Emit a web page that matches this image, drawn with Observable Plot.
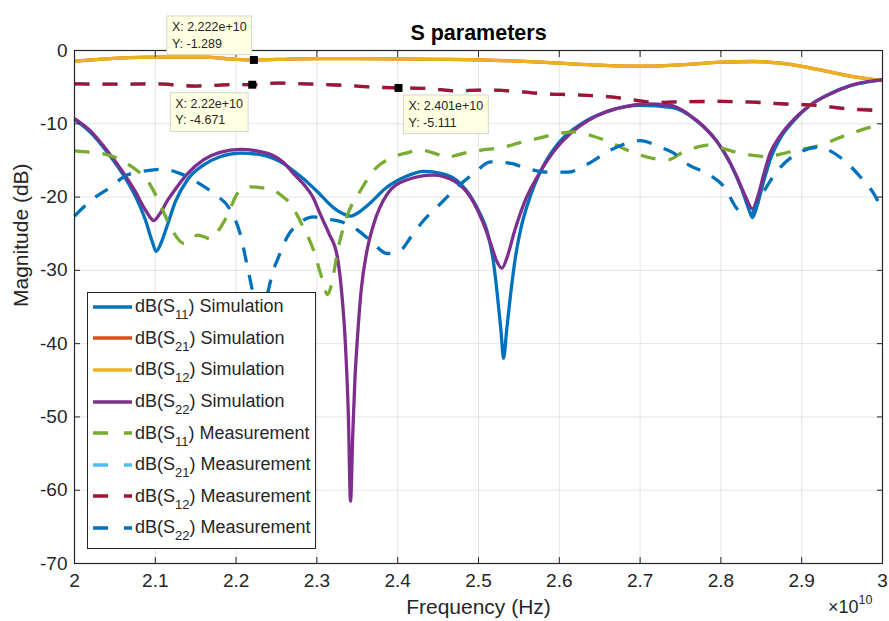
<!DOCTYPE html>
<html>
<head>
<meta charset="utf-8">
<script src="https://cdn.jsdelivr.net/npm/d3@7"></script>
<script src="https://cdn.jsdelivr.net/npm/@observablehq/plot@0.6"></script>
<style>
  body { margin: 0; background: #fff; }
  #wrap { position: relative; width: 889px; height: 621px; font-family: "Liberation Sans", Arial, Helvetica, sans-serif; color: #262626; }
  #legend { position: absolute; left: 87px; top: 292px; width: 229px; height: 257px; box-sizing: border-box; border: 1px solid #262626; background: #fff; padding-top: 0px; }
  .row { height: 31.6px; margin-top: 0; display: flex; align-items: center; font-size: 18px; color: #262626; white-space: nowrap; position: relative; top: -2px; }
  .row svg { margin-left: 5px; margin-right: 3px; flex: none; }
  .sub { font-size: 13px; position: relative; top: 7px; }
  #mult { position: absolute; left: 828px; top: 597px; font-size: 18px; line-height: 20px; color: #262626; }
  #mult sup { font-size: 12.5px; line-height: 0; position: relative; top: -2px; }
</style>
</head>
<body>
<div id="wrap"></div>
<script>
// ---- axis ticks ----
const xTicks = [2, 2.1, 2.2, 2.3, 2.4, 2.5, 2.6, 2.7, 2.8, 2.9, 3];
const xTickLabels = ["2", "2.1", "2.2", "2.3", "2.4", "2.5", "2.6", "2.7", "2.8", "2.9", "3"];
const yTicks = [-70, -60, -50, -40, -30, -20, -10, 0];
const yTickLabels = ["-70", "-60", "-50", "-40", "-30", "-20", "-10", "0"];

// ---- series: [frequency (x1e10 Hz), magnitude (dB)] ----
const s11Sim = [[2.000,-9.4],[2.020,-11.2],[2.040,-13.8],[2.060,-16.9],[2.075,-19.8],[2.088,-23.2],[2.096,-26.0],[2.101,-27.4],[2.107,-26.3],[2.115,-23.8],[2.125,-20.6],[2.140,-17.6],[2.160,-15.6],[2.180,-14.5],[2.205,-14.0],[2.230,-14.2],[2.255,-15.2],[2.280,-17.2],[2.300,-19.2],[2.320,-21.4],[2.335,-22.4],[2.342,-22.6],[2.350,-22.2],[2.365,-20.9],[2.385,-18.8],[2.410,-17.2],[2.432,-16.5],[2.455,-16.8],[2.475,-17.9],[2.492,-20.2],[2.503,-22.5],[2.511,-24.8],[2.518,-28.5],[2.523,-33.0],[2.528,-38.5],[2.531,-42.0],[2.535,-38.0],[2.540,-33.0],[2.546,-28.0],[2.552,-24.5],[2.565,-19.6],[2.580,-15.8],[2.600,-12.5],[2.630,-9.8],[2.660,-8.3],[2.700,-7.5],[2.740,-7.8],[2.770,-9.6],[2.795,-12.4],[2.812,-15.5],[2.826,-19.0],[2.835,-21.8],[2.839,-22.8],[2.844,-21.5],[2.852,-18.2],[2.862,-14.6],[2.875,-11.7],[2.890,-9.6],[2.910,-7.5],[2.935,-5.9],[2.960,-4.8],[2.980,-4.3],[3.000,-4.0]];
const s21Sim = [[2.00,-1.45],[2.03,-1.2],[2.06,-1.0],[2.10,-0.9],[2.16,-0.9],[2.20,-1.2],[2.222,-1.27],[2.26,-1.2],[2.30,-1.1],[2.35,-1.1],[2.40,-1.15],[2.45,-1.2],[2.50,-1.27],[2.55,-1.45],[2.60,-1.73],[2.65,-2.0],[2.70,-2.15],[2.75,-1.95],[2.80,-1.6],[2.84,-1.5],[2.87,-1.7],[2.90,-2.15],[2.93,-2.8],[2.96,-3.5],[3.00,-4.1]];
const s12Sim = [[2.00,-1.45],[2.03,-1.2],[2.06,-1.0],[2.10,-0.9],[2.16,-0.9],[2.20,-1.2],[2.222,-1.27],[2.26,-1.2],[2.30,-1.1],[2.35,-1.1],[2.40,-1.15],[2.45,-1.2],[2.50,-1.27],[2.55,-1.45],[2.60,-1.73],[2.65,-2.0],[2.70,-2.15],[2.75,-1.95],[2.80,-1.6],[2.84,-1.5],[2.87,-1.7],[2.90,-2.15],[2.93,-2.8],[2.96,-3.5],[3.00,-4.1]];
const s22Sim = [[2.000,-9.3],[2.020,-11.0],[2.040,-13.6],[2.060,-16.6],[2.075,-19.2],[2.088,-21.8],[2.098,-23.2],[2.106,-22.2],[2.115,-20.5],[2.125,-18.9],[2.140,-16.8],[2.160,-14.9],[2.180,-13.9],[2.205,-13.5],[2.230,-13.8],[2.245,-14.3],[2.258,-15.2],[2.271,-16.8],[2.284,-18.3],[2.295,-20.0],[2.304,-22.3],[2.315,-25.0],[2.325,-28.0],[2.331,-33.4],[2.335,-39.5],[2.339,-50.0],[2.3416,-61.5],[2.3445,-52.0],[2.347,-45.0],[2.350,-39.5],[2.355,-32.5],[2.362,-27.3],[2.370,-23.8],[2.387,-19.6],[2.410,-17.7],[2.444,-17.0],[2.470,-17.8],[2.490,-20.0],[2.505,-23.3],[2.515,-26.3],[2.522,-28.6],[2.529,-29.7],[2.536,-28.0],[2.545,-24.5],[2.558,-20.4],[2.573,-17.2],[2.595,-13.5],[2.614,-11.3],[2.635,-9.6],[2.655,-8.5],[2.680,-7.7],[2.705,-7.3],[2.738,-7.5],[2.760,-8.7],[2.779,-10.4],[2.795,-12.4],[2.808,-14.6],[2.820,-17.3],[2.830,-19.8],[2.839,-21.6],[2.846,-19.8],[2.853,-16.9],[2.861,-14.0],[2.873,-11.7],[2.886,-9.9],[2.911,-7.4],[2.944,-5.5],[2.969,-4.5],[3.000,-4.0]];
const s11Meas = [[2.000,-13.7],[2.020,-13.9],[2.036,-14.1],[2.055,-14.8],[2.069,-15.7],[2.080,-16.6],[2.090,-17.7],[2.100,-19.6],[2.110,-22.0],[2.120,-24.3],[2.135,-26.3],[2.145,-25.8],[2.152,-25.2],[2.160,-25.4],[2.168,-25.7],[2.175,-25.0],[2.181,-24.1],[2.190,-22.3],[2.201,-19.6],[2.210,-18.8],[2.218,-18.6],[2.230,-18.7],[2.243,-18.9],[2.255,-19.7],[2.267,-20.9],[2.283,-24.1],[2.296,-27.3],[2.306,-31.0],[2.313,-33.3],[2.319,-31.5],[2.325,-27.7],[2.337,-22.7],[2.354,-19.1],[2.370,-16.4],[2.395,-14.5],[2.410,-14.0],[2.428,-13.6],[2.445,-14.0],[2.461,-14.6],[2.475,-14.2],[2.490,-13.8],[2.510,-13.5],[2.531,-13.2],[2.550,-12.6],[2.573,-12.0],[2.595,-11.4],[2.620,-11.1],[2.639,-11.6],[2.660,-12.4],[2.680,-13.4],[2.696,-14.1],[2.720,-14.8],[2.735,-14.9],[2.754,-13.8],[2.770,-13.2],[2.783,-12.9],[2.800,-13.3],[2.820,-13.9],[2.840,-14.3],[2.857,-14.5],[2.875,-14.1],[2.890,-13.7],[2.920,-13.0],[2.956,-11.5],[2.975,-10.8],[3.000,-10.0]];
const s21Meas = [[2.00,-4.55],[2.04,-4.6],[2.10,-4.55],[2.15,-4.85],[2.20,-4.65],[2.222,-4.67],[2.25,-4.45],[2.30,-4.6],[2.34,-4.8],[2.37,-5.0],[2.40,-5.1],[2.44,-5.2],[2.47,-5.5],[2.51,-5.4],[2.55,-5.6],[2.58,-5.9],[2.62,-6.05],[2.66,-6.3],[2.69,-6.7],[2.72,-7.1],[2.75,-7.0],[2.80,-6.95],[2.84,-7.05],[2.88,-7.3],[2.92,-7.5],[2.95,-7.85],[2.98,-8.05],[3.00,-8.1]];
const s12Meas = [[2.00,-4.55],[2.04,-4.6],[2.10,-4.55],[2.15,-4.85],[2.20,-4.65],[2.222,-4.671],[2.25,-4.45],[2.30,-4.6],[2.34,-4.8],[2.37,-5.0],[2.401,-5.111],[2.44,-5.2],[2.47,-5.5],[2.51,-5.4],[2.55,-5.6],[2.58,-5.9],[2.62,-6.05],[2.66,-6.3],[2.69,-6.7],[2.72,-7.1],[2.75,-7.0],[2.80,-6.95],[2.84,-7.05],[2.88,-7.3],[2.92,-7.5],[2.95,-7.9],[3.00,-8.2]];
const s22Meas = [[2.000,-22.6],[2.020,-20.5],[2.045,-18.6],[2.065,-17.0],[2.090,-16.4],[2.110,-16.2],[2.131,-16.8],[2.152,-18.0],[2.172,-19.5],[2.193,-21.8],[2.205,-25.0],[2.214,-29.5],[2.222,-33.5],[2.230,-35.5],[2.238,-33.5],[2.246,-30.0],[2.251,-28.6],[2.263,-25.5],[2.280,-23.4],[2.296,-22.7],[2.310,-23.0],[2.325,-23.2],[2.345,-24.1],[2.366,-25.9],[2.387,-27.7],[2.403,-27.3],[2.416,-25.5],[2.432,-23.2],[2.453,-20.9],[2.474,-18.6],[2.494,-16.8],[2.515,-15.2],[2.540,-15.4],[2.560,-16.1],[2.585,-16.6],[2.610,-16.6],[2.635,-15.5],[2.663,-13.6],[2.685,-12.6],[2.700,-12.3],[2.725,-13.2],[2.740,-13.9],[2.760,-15.6],[2.783,-16.8],[2.804,-18.6],[2.822,-21.8],[2.837,-22.3],[2.849,-20.0],[2.870,-16.4],[2.894,-14.1],[2.920,-13.2],[2.948,-14.6],[2.973,-17.3],[2.989,-19.5],[3.000,-21.8]];

// ---- legend content ----
const seriesParams = ["11", "21", "12", "22", "11", "21", "12", "22"];
const seriesKinds = ["Simulation", "Simulation", "Simulation", "Simulation", "Measurement", "Measurement", "Measurement", "Measurement"];
const seriesData = [s11Sim, s21Sim, s12Sim, s22Sim, s11Meas, s21Meas, s12Meas, s22Meas];

// ---- data tips ----
const tipX = [2.222, 2.22, 2.401];
const tipY = [-1.289, -4.671, -5.111];

// ---- styles ----
const colors = ["#0072BD", "#D95319", "#EDB120", "#7E2F8E", "#77AC30", "#4DBEEE", "#A2142F", "#0072BD"];
const dashed = [false, false, false, false, true, true, true, true];
const tipOffsets = [[-82, -26], [-77, 26], [10, 25]];
const font = '"Liberation Sans", Arial, Helvetica, sans-serif';

const tips = tipX.map((x, i) => ({x, y: tipY[i], label: `X: ${x}e+10\nY: ${tipY[i]}`}));

const lineMarks = seriesData.map((d, i) => Plot.line(d, {
  x: p => p[0], y: p => p[1],
  stroke: colors[i], strokeWidth: 3.3,
  strokeDasharray: dashed[i] ? "15,13" : null,
  strokeLinecap: "butt", strokeLinejoin: "round",
  curve: "monotone-x"
}));

const tipTextMarks = tips.map((t, i) => Plot.text([t], {
  x: "x", y: "y", text: "label",
  textAnchor: "start", lineAnchor: "middle", lineHeight: 1.33,
  dx: tipOffsets[i][0], dy: tipOffsets[i][1],
  fontSize: 12.5, fill: "#262626"
}));

const svg = Plot.plot({
  width: 889, height: 621,
  marginLeft: 74, marginRight: 7, marginTop: 50, marginBottom: 58,
  x: {domain: [2, 3]},
  y: {domain: [-70, 0]},
  style: {fontFamily: font, color: "#262626", background: "#fff", overflow: "visible"},
  marks: [
    Plot.gridX(xTicks.slice(1, -1), {stroke: "#000", strokeOpacity: 0.1, strokeWidth: 1}),
    Plot.gridY(yTicks.slice(1, -1), {stroke: "#000", strokeOpacity: 0.1, strokeWidth: 1}),
    ...lineMarks,
    Plot.frame({stroke: "#262626", strokeWidth: 1.2}),
    Plot.axisX(xTicks, {anchor: "bottom", tickSize: -6, tickFormat: () => "", label: null}),
    Plot.axisX(xTicks, {anchor: "top", tickSize: -6, tickFormat: () => "", label: null}),
    Plot.axisY(yTicks, {anchor: "left", tickSize: -6, tickFormat: () => "", label: null}),
    Plot.axisY(yTicks, {anchor: "right", tickSize: -6, tickFormat: () => "", label: null}),
    Plot.axisX(xTicks, {anchor: "bottom", tickSize: 0, tickPadding: 10, fontSize: 19, tickFormat: (d, i) => xTickLabels[i], label: null}),
    Plot.axisY(yTicks, {anchor: "left", tickSize: 0, tickPadding: 7, fontSize: 19, tickFormat: (d, i) => yTickLabels[i], label: null}),
    Plot.text(["S parameters"], {frameAnchor: "top", lineAnchor: "middle", dy: -17, fontSize: 21.5, fontWeight: "bold", fill: "#000"}),
    Plot.text(["Frequency (Hz)"], {frameAnchor: "bottom", lineAnchor: "middle", dy: 44, fontSize: 21, fill: "#262626"}),
    Plot.text(["Magnitude (dB)"], {frameAnchor: "left", lineAnchor: "middle", dx: -53, rotate: -90, fontSize: 21, fill: "#262626"}),
    Plot.dot(tips, {x: "x", y: "y", symbol: "square", r: 4.5, fill: "#000", stroke: null}),
    ...tipTextMarks
  ]
});

const wrap = document.getElementById("wrap");
wrap.appendChild(svg);

// data-tip boxes behind the tip texts
Array.from(svg.querySelectorAll("text"))
  .filter(t => t.textContent.startsWith("X:"))
  .forEach(t => {
    const b = t.getBBox();
    const r = document.createElementNS("http://www.w3.org/2000/svg", "rect");
    r.setAttribute("x", b.x - 5);
    r.setAttribute("y", b.y - 4);
    r.setAttribute("width", b.width + 10);
    r.setAttribute("height", b.height + 8);
    r.setAttribute("fill", "#ffffe4");
    r.setAttribute("stroke", "#d6d6c4");
    r.setAttribute("stroke-width", "1");
    const tr = t.getAttribute("transform");
    if (tr) r.setAttribute("transform", tr);
    t.parentNode.insertBefore(r, t);
  });

// legend (inside the axes, lower left)
const legend = document.createElement("div");
legend.id = "legend";
seriesParams.forEach((p, i) => {
  const row = document.createElement("div");
  row.className = "row";
  const dash = dashed[i] ? 'stroke-dasharray="15,16"' : "";
  row.innerHTML = `<svg width="39" height="10"><line x1="0" y1="5" x2="39" y2="5" stroke="${colors[i]}" stroke-width="3.3" ${dash}/></svg>` +
    `<span>dB(S<span class="sub">${p}</span>) ${seriesKinds[i]}</span>`;
  legend.appendChild(row);
});
wrap.appendChild(legend);

const mult = document.createElement("div");
mult.id = "mult";
mult.innerHTML = "×10<sup>10</sup>";
wrap.appendChild(mult);
</script>
</body>
</html>
